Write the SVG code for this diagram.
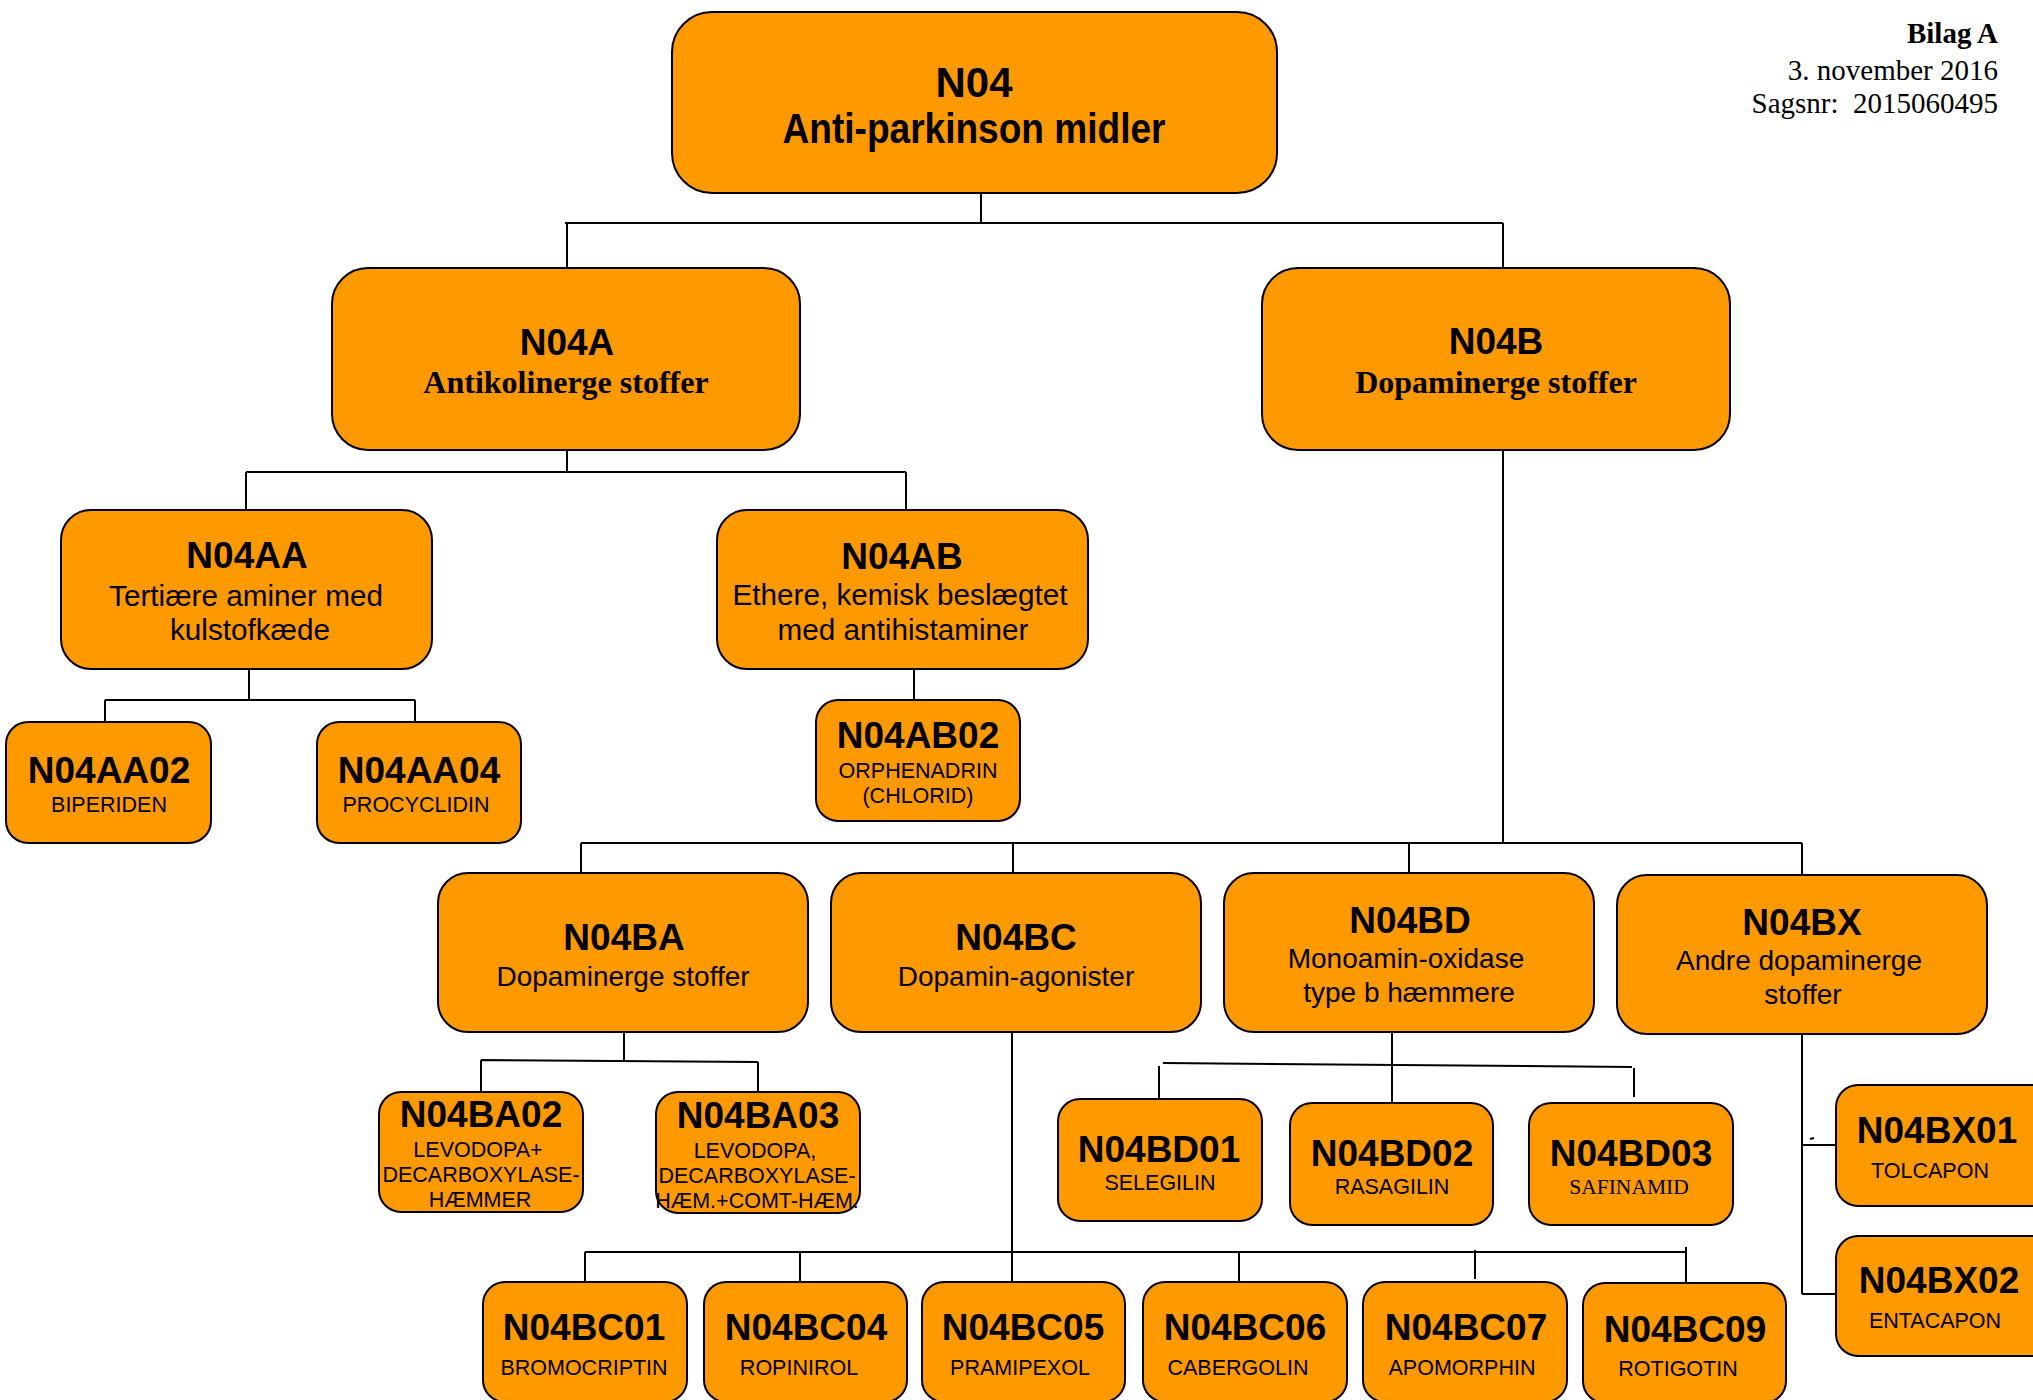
<svg xmlns="http://www.w3.org/2000/svg" width="2033" height="1400" viewBox="0 0 2033 1400">
<style>
.box{fill:#FF9900;stroke:#000;stroke-width:2}
.conn{stroke:#000;stroke-width:2;fill:none}
text{font-family:"Liberation Sans",Arial,sans-serif;text-anchor:middle;fill:#000}
.code{font-weight:bold;font-size:37px}
.top{font-weight:bold;font-size:42px}
.desc{font-size:28px}
.desc2{font-size:29.7px}
.small{font-size:21.5px}
.serifb{font-family:"Liberation Serif","Times New Roman",serif;font-weight:bold;font-size:32px}
.serif{font-family:"Liberation Serif","Times New Roman",serif;font-size:21.5px}
.hdr{font-family:"Liberation Serif","Times New Roman",serif;font-size:29px;text-anchor:end}
</style>
<rect width="2033" height="1400" fill="#fff"/>
<g id="header">
<text class="hdr" x="1998" y="43" font-weight="bold" font-size="32">Bilag A</text>
<text class="hdr" x="1998" y="80">3. november 2016</text>
<text class="hdr" x="1998" y="113" xml:space="preserve">Sagsnr:  2015060495</text>
</g>
<g id="connectors">
<path class="conn" d="M981,193V223M565,223H1503M567,223V268M1503,223V268"/>
<path class="conn" d="M567,450V472M246,472H906M246,472V510M906,472V510"/>
<path class="conn" d="M249,669V700M105,700H415M105,700V722M415,700V722"/>
<path class="conn" d="M914,669V700"/>
<path class="conn" d="M1503,450V843M581,843H1802M581,843V873M1013,843V873M1409,843V873M1802,843V875"/>
<path class="conn" d="M624,1032V1061M481,1060L758,1062M481,1060V1092M758,1062V1092"/>
<path class="conn" d="M1392,1032V1103M1163,1063L1632,1067M1159,1066V1099M1634,1068V1097"/>
<path class="conn" d="M1012,1032V1282M585,1252H1686M585,1252V1282M800,1252V1282M1239,1252V1282M1475,1250V1279M1686,1247V1283"/>
<path class="conn" d="M1802,1034V1294M1803,1145H1836M1802,1294H1838M1810,1139l4,-1"/>
</g>
<g id="N04">
<rect class="box" x="672" y="12" width="605" height="181" rx="40"/>
<text class="top" x="974" y="97" textLength="77" lengthAdjust="spacingAndGlyphs">N04</text>
<text class="top" x="974" y="143" textLength="383" lengthAdjust="spacingAndGlyphs">Anti-parkinson midler</text>
</g>
<g id="N04A">
<rect class="box" x="332" y="268" width="468" height="182" rx="36"/>
<text class="code" x="567" y="355">N04A</text>
<text class="serifb" x="566" y="393">Antikolinerge stoffer</text>
</g>
<g id="N04B">
<rect class="box" x="1262" y="268" width="468" height="182" rx="36"/>
<text class="code" x="1496" y="354">N04B</text>
<text class="serifb" x="1496" y="393">Dopaminerge stoffer</text>
</g>
<g id="N04AA">
<rect class="box" x="61" y="510" width="371" height="159" rx="30"/>
<text class="code" x="247" y="568">N04AA</text>
<text class="desc2" x="246" y="606">Tertiære aminer med</text>
<text class="desc2" x="250" y="640">kulstofkæde</text>
</g>
<g id="N04AB">
<rect class="box" x="717" y="510" width="371" height="159" rx="30"/>
<text class="code" x="902" y="569">N04AB</text>
<text class="desc2" x="900" y="605">Ethere, kemisk beslægtet</text>
<text class="desc2" x="903" y="640">med antihistaminer</text>
</g>
<g id="N04AA02">
<rect class="box" x="6" y="722" width="205" height="121" rx="22"/>
<text class="code" x="109" y="783">N04AA02</text>
<text class="small" x="109" y="812">BIPERIDEN</text>
</g>
<g id="N04AA04">
<rect class="box" x="317" y="722" width="204" height="121" rx="22"/>
<text class="code" x="419" y="783">N04AA04</text>
<text class="small" x="416" y="812">PROCYCLIDIN</text>
</g>
<g id="N04AB02">
<rect class="box" x="816" y="700" width="204" height="121" rx="22"/>
<text class="code" x="918" y="748">N04AB02</text>
<text class="small" x="918" y="778">ORPHENADRIN</text>
<text class="small" x="918" y="803">(CHLORID)</text>
</g>
<g id="N04BA">
<rect class="box" x="438" y="873" width="370" height="159" rx="30"/>
<text class="code" x="624" y="950">N04BA</text>
<text class="desc" x="623" y="986">Dopaminerge stoffer</text>
</g>
<g id="N04BC">
<rect class="box" x="831" y="873" width="370" height="159" rx="30"/>
<text class="code" x="1016" y="950">N04BC</text>
<text class="desc" x="1016" y="986">Dopamin-agonister</text>
</g>
<g id="N04BD">
<rect class="box" x="1224" y="873" width="370" height="159" rx="30"/>
<text class="code" x="1410" y="933">N04BD</text>
<text class="desc" x="1406" y="968">Monoamin-oxidase</text>
<text class="desc" x="1409" y="1002">type b hæmmere</text>
</g>
<g id="N04BX">
<rect class="box" x="1617" y="875" width="370" height="159" rx="30"/>
<text class="code" x="1802" y="935">N04BX</text>
<text class="desc" x="1799" y="970">Andre dopaminerge</text>
<text class="desc" x="1803" y="1004">stoffer</text>
</g>
<g id="N04BA02">
<rect class="box" x="379" y="1092" width="204" height="120" rx="22"/>
<text class="code" x="481" y="1127">N04BA02</text>
<text class="small" x="478" y="1157">LEVODOPA+</text>
<text class="small" x="481" y="1182">DECARBOXYLASE-</text>
<text class="small" x="480" y="1207">HÆMMER</text>
</g>
<g id="N04BA03">
<rect class="box" x="656" y="1092" width="204" height="121" rx="22"/>
<text class="code" x="758" y="1128">N04BA03</text>
<text class="small" x="755" y="1158">LEVODOPA,</text>
<text class="small" x="757" y="1183">DECARBOXYLASE-</text>
<text class="small" x="757" y="1208">HÆM.+COMT-HÆM.</text>
</g>
<g id="N04BD01">
<rect class="box" x="1058" y="1099" width="204" height="122" rx="22"/>
<text class="code" x="1159" y="1162">N04BD01</text>
<text class="small" x="1160" y="1190">SELEGILIN</text>
</g>
<g id="N04BD02">
<rect class="box" x="1290" y="1103" width="203" height="122" rx="22"/>
<text class="code" x="1392" y="1166">N04BD02</text>
<text class="small" x="1392" y="1194">RASAGILIN</text>
</g>
<g id="N04BD03">
<rect class="box" x="1529" y="1103" width="204" height="122" rx="22"/>
<text class="code" x="1631" y="1166">N04BD03</text>
<text class="serif" x="1629" y="1194">SAFINAMID</text>
</g>
<g id="N04BX01">
<rect class="box" x="1836" y="1085" width="220" height="121" rx="22"/>
<text class="code" x="1937" y="1143">N04BX01</text>
<text class="small" x="1930" y="1178">TOLCAPON</text>
</g>
<g id="N04BX02">
<rect class="box" x="1836" y="1236" width="220" height="120" rx="22"/>
<text class="code" x="1939" y="1293">N04BX02</text>
<text class="small" x="1935" y="1328">ENTACAPON</text>
</g>
<g id="N04BC01">
<rect class="box" x="483" y="1282" width="204" height="120" rx="22"/>
<text class="code" x="584" y="1340">N04BC01</text>
<text class="small" x="584" y="1375">BROMOCRIPTIN</text>
</g>
<g id="N04BC04">
<rect class="box" x="704" y="1282" width="203" height="120" rx="22"/>
<text class="code" x="806" y="1340">N04BC04</text>
<text class="small" x="799" y="1375">ROPINIROL</text>
</g>
<g id="N04BC05">
<rect class="box" x="922" y="1282" width="203" height="120" rx="22"/>
<text class="code" x="1023" y="1340">N04BC05</text>
<text class="small" x="1020" y="1375">PRAMIPEXOL</text>
</g>
<g id="N04BC06">
<rect class="box" x="1143" y="1282" width="204" height="120" rx="22"/>
<text class="code" x="1245" y="1340">N04BC06</text>
<text class="small" x="1238" y="1375">CABERGOLIN</text>
</g>
<g id="N04BC07">
<rect class="box" x="1363" y="1282" width="204" height="120" rx="22"/>
<text class="code" x="1466" y="1340">N04BC07</text>
<text class="small" x="1462" y="1375">APOMORPHIN</text>
</g>
<g id="N04BC09">
<rect class="box" x="1583" y="1283" width="203" height="120" rx="22"/>
<text class="code" x="1685" y="1342">N04BC09</text>
<text class="small" x="1678" y="1376">ROTIGOTIN</text>
</g>
</svg>
